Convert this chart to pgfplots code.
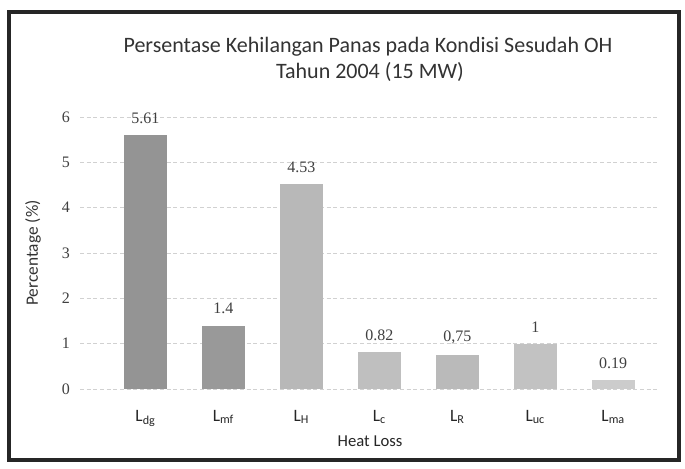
\documentclass[border=0pt]{standalone}
\usepackage{pgfplots}
\pgfplotsset{compat=1.18}
\usepackage{fontspec}
\setmainfont{Carlito}
\newfontfamily\numfont{Liberation Serif}
\begin{document}
\begin{tikzpicture}[x=0.75pt,y=0.75pt]
\useasboundingbox (0,0) rectangle (685,468);
\fill[white] (0,0) rectangle (685,468);
\draw[line width=3.5pt, black!85] (9,8) rectangle (679,456);
\node[font=\fontsize{16.5}{19}\selectfont, text=black!80] at (368,421) {Persentase Kehilangan Panas pada Kondisi Sesudah OH};
\node[font=\fontsize{16.5}{19}\selectfont, text=black!80] at (370,396) {Tahun 2004 (15 MW)};
\begin{axis}[
  at={(60pt,59.25pt)}, anchor=south west,
  scale only axis, width=435pt, height=204pt,
  xmin=-0.84, xmax=6.6, ymin=0, ymax=6,
  ytick={0,1,...,6},
  xtick={0,1,...,6},
  xticklabels={L\textsubscript{dg}, L\textsubscript{mf}, L\textsubscript{H}, L\textsubscript{c}, L\textsubscript{R}, L\textsubscript{uc}, L\textsubscript{ma}},
  /pgf/number format/assume math mode=true,
  yticklabel style={font=\numfont\fontsize{12}{14}\selectfont, text=black!75, xshift=-4pt},
  xticklabel style={font=\fontsize{13}{15}\selectfont, text=black!85, yshift=-8pt},
  axis line style={draw=none},
  tick style={draw=none},
  ymajorgrids,
  grid style={densely dashed, black!18},
  xlabel={Heat Loss},
  ylabel={Percentage (\%)},
  xlabel style={font=\fontsize{12.5}{15}\selectfont, text=black!85, yshift=0pt},
  ylabel style={font=\fontsize{13}{15}\selectfont, text=black!80, yshift=9pt},
  ybar, bar width=0.55,
  every axis plot/.append style={bar shift=0pt, draw=none},
  nodes near coords style={font=\numfont\fontsize{12}{14}\selectfont, text=black!75, yshift=5pt},
]
\addplot[fill=black!42, nodes near coords={5.61}] coordinates {(0,5.61)};
\addplot[fill=black!40, nodes near coords={1.4}] coordinates {(1,1.4)};
\addplot[fill=black!28, nodes near coords={4.53}] coordinates {(2,4.53)};
\addplot[fill=black!25, nodes near coords={0.82}] coordinates {(3,0.82)};
\addplot[fill=black!27, nodes near coords={0,75}] coordinates {(4,0.75)};
\addplot[fill=black!24, nodes near coords={1}] coordinates {(5,1)};
\addplot[fill=black!20, nodes near coords={0.19}] coordinates {(6,0.19)};
\end{axis}
\end{tikzpicture}
\end{document}
